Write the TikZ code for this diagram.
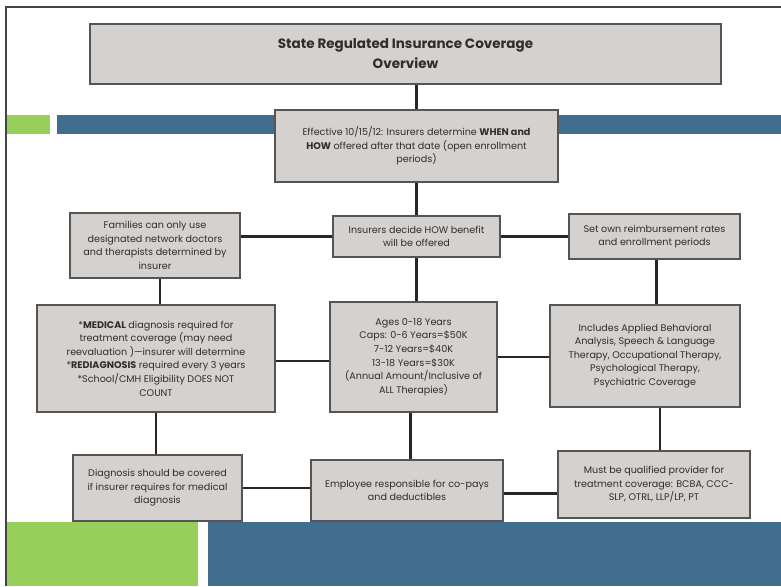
\documentclass[tikz,border=0pt]{standalone}
\usepackage{fontspec}
\setmainfont{Poppins}
\begin{document}
\begin{tikzpicture}[x=1pt,y=-1pt,
  box/.style={draw=boxline,line width=2pt,fill=boxfill,align=center,
    inner sep=2pt,text=txt,font=\fontsize{9.6}{13.6}\selectfont},
  link/.style={line width=2.4pt,draw=black!85}]
\definecolor{boxfill}{HTML}{D4D1CF}
\definecolor{boxline}{HTML}{555555}
\definecolor{txt}{HTML}{2E2E2E}
\definecolor{barg}{HTML}{98CE5A}
\definecolor{barb}{HTML}{416E8E}
\definecolor{frame}{HTML}{444444}
\useasboundingbox (0,0) rectangle (781,586);
\fill[white] (0,0) rectangle (781,586);
% slide decoration
\fill[barg] (7,115) rectangle (50,134);
\fill[barb] (57,115) rectangle (781,134);
\fill[barg] (7,522) rectangle (198,586);
\fill[barb] (208,522) rectangle (781,586);
\draw[frame,line width=1.5pt] (6,586) -- (6,7) -- (781,7);
% boxes
\node[box,minimum width=631pt,minimum height=60pt,font=\bfseries\fontsize{13.5}{20}\selectfont]
  (top) at (405.5,54) {State Regulated Insurance Coverage\\Overview};
\node[box,minimum width=283pt,minimum height=72pt]
  (eff) at (416.5,146) {Effective 10/15/12: Insurers determine \textbf{WHEN and}\\\textbf{HOW} offered after that date (open enrollment\\periods)};
\node[box,minimum width=170pt,minimum height=65pt]
  (fam) at (155,245.5) {Families can only use\\designated network doctors\\and therapists determined by\\insurer};
\node[box,minimum width=167pt,minimum height=41pt]
  (how) at (416.5,236.5) {Insurers decide HOW benefit\\will be offered};
\node[box,minimum width=171pt,minimum height=45pt]
  (set) at (654.5,236.5) {Set own reimbursement rates\\and enrollment periods};
\node[box,minimum width=238pt,minimum height=107pt]
  (med) at (156,358.5) {*\textbf{MEDICAL} diagnosis required for\\treatment coverage (may need\\reevaluation )---insurer will determine\\*\textbf{REDIAGNOSIS} required every 3 years\\*School/CMH Eligibility DOES NOT\\COUNT};
\node[box,minimum width=167pt,minimum height=110pt]
  (ages) at (413.5,357) {Ages 0-18 Years\\Caps: 0-6 Years=\$50K\\7-12 Years=\$40K\\13-18 Years=\$30K\\(Annual Amount/Inclusive of\\ALL Therapies)};
\node[box,minimum width=190pt,minimum height=102pt]
  (incl) at (645,356) {Includes Applied Behavioral\\Analysis, Speech \& Language\\Therapy, Occupational Therapy,\\Psychological Therapy,\\Psychiatric Coverage};
\node[box,minimum width=169pt,minimum height=66pt]
  (diag) at (157.5,488) {Diagnosis should be covered\\if insurer requires for medical\\diagnosis};
\node[box,minimum width=192pt,minimum height=61pt]
  (emp) at (407,490.5) {Employee responsible for co-pays\\and deductibles};
\node[box,minimum width=192pt,minimum height=67pt]
  (must) at (654,484.5) {Must be qualified provider for\\treatment coverage: BCBA, CCC-\\SLP, OTRL, LLP/LP, PT};
% connectors
\draw[link] (eff.north) -- (eff.north |- top.south);
\draw[link] (eff.south) -- (how.north);
\draw[link] (how.west) -- (how.west -| fam.east);
\draw[link] (how.east) -- (set.west);
\draw[link] ([xshift=5pt]fam.south) -- ([xshift=5pt]fam.south |- med.north);
\draw[link] (how.south) -- (how.south |- ages.north);
\draw[link] ([xshift=2pt]set.south) -- ([xshift=2pt]set.south |- incl.north);
\draw[link] ([yshift=-4pt]ages.west) -- ([yshift=-4pt]ages.west -| med.east);
\draw[link] (ages.east) -- (ages.east -| incl.west);
\draw[link] (med.south) -- (med.south |- diag.north);
\draw[link] ([xshift=-3pt]ages.south) -- ([xshift=-3pt]ages.south |- emp.north);
\draw[link] ([xshift=6pt]must.north) -- ([xshift=6pt]must.north |- incl.south);
\draw[link] (diag.east) -- (diag.east -| emp.west);
\draw[link] ([yshift=-3pt]emp.east) -- ([yshift=-3pt]emp.east -| must.west);
\end{tikzpicture}
\end{document}
